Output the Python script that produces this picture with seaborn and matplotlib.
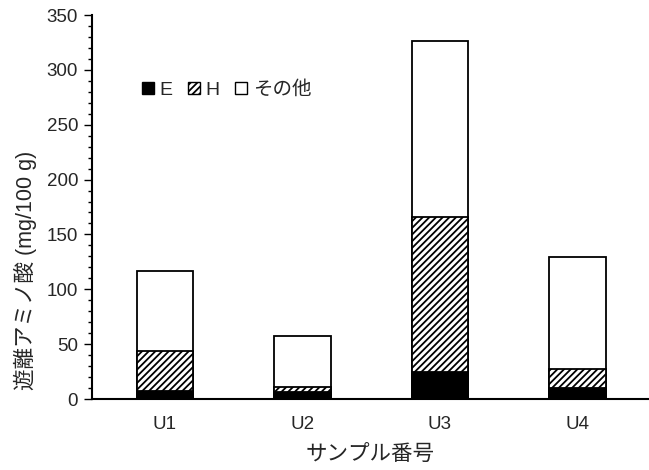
import matplotlib
matplotlib.use("Agg")
import matplotlib.pyplot as plt
from matplotlib.patches import Rectangle
from matplotlib.ticker import MultipleLocator
import seaborn as sns
import pandas as pd
import numpy as np

samples = ["U1", "U2", "U3", "U4"]
e_vals = [7, 6, 25, 10]
h_vals = [37, 5, 141, 17]
other_vals = [73, 46, 160, 102]

sns.set_style("white")
plt.rcParams["font.family"] = ["Liberation Sans", "Noto Sans CJK JP"]
plt.rcParams["hatch.linewidth"] = 1.3

e = np.array(e_vals)
eh = e + np.array(h_vals)
total = eh + np.array(other_vals)
df = pd.DataFrame({"sample": samples, "E": e, "EH": eh, "total": total})

fig = plt.figure(figsize=(6.49, 4.70), dpi=100)
ax = fig.add_axes([92 / 649, 1 - 399 / 470, 557 / 649, 384 / 470])

# stacked bars: draw cumulative totals back to front
w = 0.41
sns.barplot(data=df, x="sample", y="total", color="white", edgecolor="black",
            linewidth=1.3, width=w, ax=ax, saturation=1)
sns.barplot(data=df, x="sample", y="EH", color="white", edgecolor="black",
            linewidth=1.3, width=w, hatch="/////", ax=ax, saturation=1)
sns.barplot(data=df, x="sample", y="E", color="black", edgecolor="black",
            linewidth=1.3, width=w, ax=ax, saturation=1)

ax.set_xlim(-0.53, 3.52)
ax.set_ylim(0, 350)
ax.yaxis.set_major_locator(MultipleLocator(50))
ax.yaxis.set_minor_locator(MultipleLocator(10))
ax.tick_params(axis="y", which="major", direction="out", length=6, width=1,
               labelsize=13.5, left=True, color="black", pad=4)
ax.tick_params(axis="y", which="minor", direction="out", length=3, width=1,
               left=True, color="black")
ax.tick_params(axis="x", length=0, labelsize=13.5, pad=12)
for s in ["top", "right"]:
    ax.spines[s].set_visible(False)
for s in ["left", "bottom"]:
    ax.spines[s].set_color("black")
    ax.spines[s].set_linewidth(1.5)

ax.set_xlabel("サンプル番号", fontsize=15.5, labelpad=9)
ax.set_ylabel("遊離アミノ酸 (mg/100 g)", fontsize=15.5)
ax.yaxis.set_label_coords(-0.099, 0.336)

handles = [
    Rectangle((0, 0), 1, 1, facecolor="black", edgecolor="black"),
    Rectangle((0, 0), 1, 1, facecolor="white", edgecolor="black", hatch="/////"),
    Rectangle((0, 0), 1, 1, facecolor="white", edgecolor="black"),
]
ax.legend(handles, ["E", "H", "その他"], ncol=3, frameon=False, fontsize=14,
          handlelength=0.6, handleheight=0.6, handletextpad=0.3,
          columnspacing=0.8, loc="center left", bbox_to_anchor=(0.09, 0.805),
          borderpad=0, borderaxespad=0)

fig.savefig("out.png", dpi=100)
